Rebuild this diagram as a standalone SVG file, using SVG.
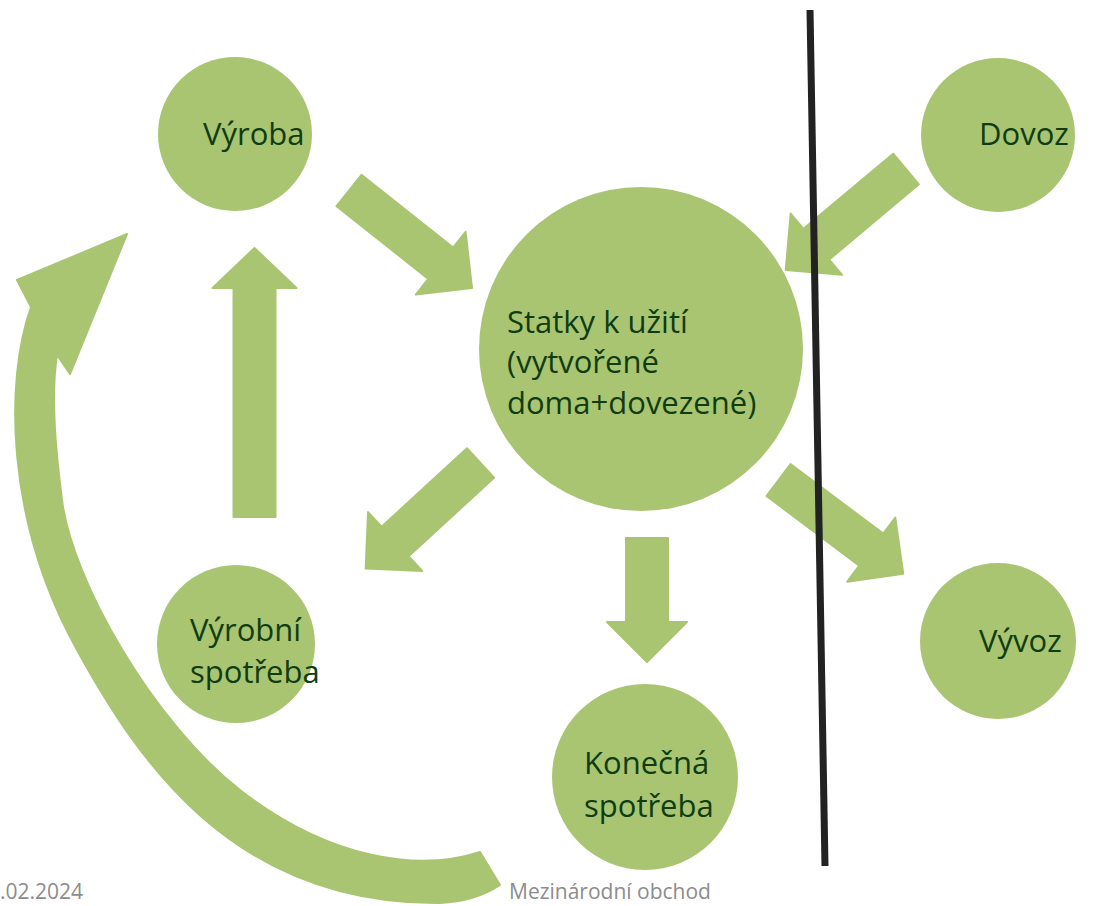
<svg xmlns="http://www.w3.org/2000/svg" width="1099" height="906" viewBox="0 0 1099 906">
<style>
.node{fill:#aac572}
.lbl{font-family:"Open Sans","Liberation Sans",sans-serif;font-size:31px;fill:#0f3d0f}
.arr{fill:#aac572;stroke:#aac572;stroke-width:2;stroke-linejoin:round}
.foot{font-family:"Open Sans","Liberation Sans",sans-serif;font-size:21px;fill:#8c8c8c}
</style>
<rect width="1099" height="906" fill="#ffffff"/>
<g id="vyroba"><circle class="node" cx="235" cy="134" r="77"/><text class="lbl" x="203" y="145">Výroba</text></g>
<g id="dovoz"><circle class="node" cx="998" cy="135" r="77"/><text class="lbl" x="979" y="145">Dovoz</text></g>
<g id="statky"><circle class="node" cx="641" cy="349" r="162"/><text class="lbl" x="507" y="333">Statky k užití</text><text class="lbl" x="507" y="373">(vytvořené</text><text class="lbl" x="507" y="414">doma+dovezené)</text></g>
<g id="vyrobni-spotreba"><circle class="node" cx="236" cy="644" r="79"/><text class="lbl" x="190" y="641">Výrobní</text><text class="lbl" x="190" y="683">spotřeba</text></g>
<g id="konecna-spotreba"><circle class="node" cx="645" cy="777" r="93"/><text class="lbl" x="584" y="774">Konečná</text><text class="lbl" x="584" y="817">spotřeba</text></g>
<g id="vyvoz"><circle class="node" cx="998" cy="641" r="78"/><text class="lbl" x="979" y="652">Vývoz</text></g>
<g id="connectors">
<polygon class="arr" transform="translate(349,190.5) rotate(38.4)" points="0,-20 117,-20 117,-40 157,0 117,40 117,20 0,20"/>
<polygon class="arr" transform="translate(906,169) rotate(140)" points="0,-20 117,-20 117,-40 157,0 117,40 117,20 0,20"/>
<polygon class="arr" transform="translate(778.5,480) rotate(36.9)" points="0,-20 116,-20 116,-40 156,0 116,40 116,20 0,20"/>
<polygon class="arr" transform="translate(480.5,463) rotate(137.4)" points="0,-20 116,-20 116,-40 156,0 116,40 116,20 0,20"/>
<polygon class="arr" transform="translate(254.5,517) rotate(-90)" points="0,-21 229,-21 229,-42 269,0 229,42 229,21 0,21"/>
<polygon class="arr" transform="translate(647,538) rotate(90)" points="0,-21 84,-21 84,-40 124,0 84,40 84,21 0,21"/>
<path class="arr" d="M17,280 L127,234 L70,374 L57,355 C50,400 57,460 62,500 C72,580 153,722 240,790 C330,860 420,872 480,852 L500,885 C485,895 465,902 440,903 C230,905 135,755 77,650 C5,520 5,380 31,307 Z"/>
</g>
<line x1="810" y1="10" x2="825" y2="866" stroke="#222222" stroke-width="7"/>
<text class="foot" x="0" y="899">.02.2024</text>
<text class="foot" x="509" y="899">Mezinárodní obchod</text>
</svg>
